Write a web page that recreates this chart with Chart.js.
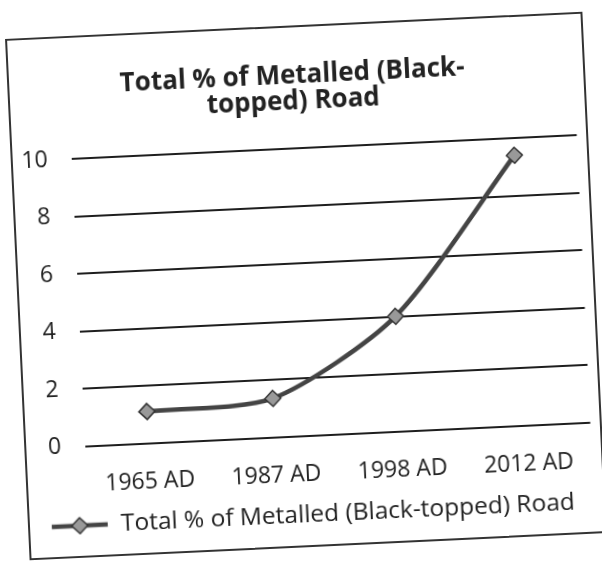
<!DOCTYPE html>
<html>
<head>
<meta charset="utf-8">
<script src="https://cdn.jsdelivr.net/npm/chart.js@4"></script>
<style>
  html, body { margin: 0; padding: 0; background: #fff; }
  body { width: 602px; height: 569px; overflow: hidden; position: relative; }
  #frame {
    position: absolute; left: 17px; top: 25px;
    width: 574px; height: 518px;
    border: 2px solid #333;
    transform: rotate(-2.7deg);
    background: #fff;
  }
</style>
</head>
<body>
<div id="frame"><canvas id="roadChart"></canvas></div>
<script>
// --- Data ---
const years = ['1965 AD', '1987 AD', '1998 AD', '2012 AD'];
const metalledPct = [1.1, 1.35, 4.0, 9.4];
const yTicks = [0, 2, 4, 6, 8, 10];
const chartTitle = ['Total % of Metalled (Black-', 'topped) Road'];
const seriesName = 'Total % of Metalled (Black-topped) Road';

const textColor = '#222';
const fontFamily = '"Open Sans", "DejaVu Sans", sans-serif';

// legend symbol: line with a diamond marker
function legendSymbol() {
    const c = document.createElement('canvas');
    c.width = 58; c.height = 20;
    const g = c.getContext('2d');
    g.strokeStyle = '#444';
    g.lineWidth = 4.5;
    g.beginPath(); g.moveTo(1, 10); g.lineTo(57, 10); g.stroke();
    g.fillStyle = '#999';
    g.strokeStyle = '#333';
    g.lineWidth = 1.5;
    g.beginPath();
    g.moveTo(29, 2); g.lineTo(37, 10); g.lineTo(29, 18); g.lineTo(21, 10); g.closePath();
    g.fill(); g.stroke();
    return c;
}

document.addEventListener('DOMContentLoaded', () => {
    const ctx = document.getElementById('roadChart').getContext('2d');
    const symbol = legendSymbol();

    new Chart(ctx, {
        type: 'line',
        data: {
            labels: years,
            datasets: [{
                label: seriesName,
                data: metalledPct,
                borderColor: '#444',
                borderWidth: 4.5,
                tension: 0.25,
                pointStyle: 'rectRot',
                pointRadius: 8,
                pointBackgroundColor: '#999',
                pointBorderColor: '#333',
                pointBorderWidth: 1.5
            }]
        },
        options: {
            responsive: true,
            maintainAspectRatio: false,
            animation: false,
            layout: { padding: { left: 0, right: 8, top: 0, bottom: 8 } },
            plugins: {
                title: {
                    display: true,
                    text: chartTitle,
                    color: textColor,
                    font: { family: fontFamily, size: 26, weight: 'bold', lineHeight: 1.02 },
                    padding: { top: 35, bottom: 33 }
                },
                legend: {
                    position: 'bottom',
                    labels: {
                        color: textColor,
                        font: { family: fontFamily, size: 24.5 },
                        usePointStyle: true,
                        pointStyleWidth: 58,
                        padding: 8,
                        generateLabels: (chart) => {
                            const items = Chart.defaults.plugins.legend.labels.generateLabels(chart);
                            items.forEach(it => { it.pointStyle = symbol; });
                            return items;
                        }
                    }
                },
                tooltip: { enabled: false }
            },
            scales: {
                x: {
                    offset: true,
                    grid: { display: false, drawTicks: false },
                    border: { display: false },
                    afterFit: (axis) => { axis.height = 59; },
                    ticks: {
                        color: textColor,
                        padding: 25,
                        font: { family: fontFamily, size: 23 }
                    }
                },
                y: {
                    min: 0,
                    max: 10,
                    afterBuildTicks: (axis) => { axis.ticks = yTicks.map(v => ({ value: v })); },
                    afterFit: (axis) => { axis.width = 59; },
                    border: { display: false },
                    grid: { color: '#1e1e1e', lineWidth: 2, drawTicks: false },
                    ticks: {
                        color: textColor,
                        padding: 24,
                        font: { family: fontFamily, size: 23 }
                    }
                }
            }
        }
    });
});
</script>
</body>
</html>
